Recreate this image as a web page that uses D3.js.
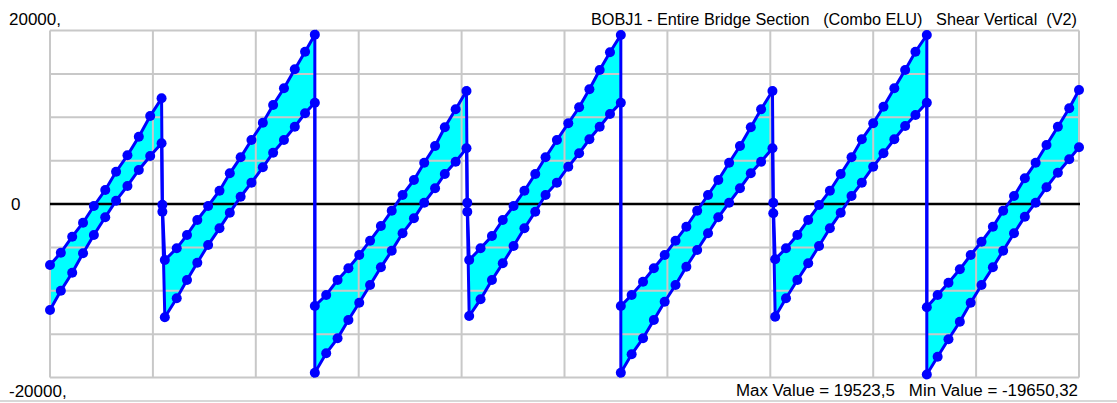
<!DOCTYPE html>
<html>
<head>
<meta charset="utf-8">
<script src="https://cdn.jsdelivr.net/npm/d3@7"></script>
<style>
  body { margin: 0; background: #fff; }
  text { font-family: "Liberation Sans", Arial, sans-serif; fill: #000; }
</style>
</head>
<body>
<div id="shearChart"></div>
<script>
// stations along the bridge (m), one entry per section point
const stations = [
  0, 2.0, 4.1, 6.1, 8.1, 10.2, 12.2, 14.3, 16.4, 18.5, 20.6,
  20.75,
  21.2, 23.4, 25.3, 27.2, 29.2, 31.3, 33.2, 35.2, 37.2, 39.3, 41.2, 43.2, 45.2, 47.1, 48.9,
  48.9, 51.0, 53.1, 55.1, 57.1, 59.1, 61.1, 63.1, 65.1, 67.2, 69.1, 71.1, 72.9, 74.9, 76.9,
  77.05,
  77.4, 79.5, 81.6, 83.6, 85.6, 87.6, 89.6, 91.5, 93.6, 95.7, 97.7, 99.6, 101.5, 103.4, 105.4,
  105.4, 107.4, 109.5, 111.5, 113.5, 115.5, 117.5, 119.5, 121.5, 123.4, 125.4, 127.4, 129.4, 131.3, 133.4,
  133.55,
  133.9, 135.9, 138.0, 140.0, 142.0, 144.0, 146.0, 148.0, 149.9, 152.0, 153.9, 155.9, 157.9, 159.8, 161.9,
  161.9, 163.9, 165.9, 168.0, 170.0, 172.0, 174.1, 176.0, 178.0, 180.0, 182.0, 184.0, 186.1, 188.2, 190.0
];

// envelope max of V2
const shearMax = [
  -7030, -5610, -3770, -2160, -230, 1610, 3720, 5610, 7760, 10140, 12180,
  -100,
  -6460, -5110, -3570, -1840, -230, 1530, 3540, 5380, 7380, 9370, 11410, 13340, 15530, 17560, 19523.5,
  -11760, -10490, -8760, -7410, -5880, -4230, -2540, -770, 1040, 2770, 4760, 6690, 8840, 10920, 13030,
  150,
  -6460, -5110, -3690, -1840, -230, 1530, 3460, 5380, 7380, 9300, 11150, 13220, 15450, 17490, 19480,
  -11760, -10490, -8960, -7410, -5880, -4230, -2620, -770, 1040, 2770, 4760, 6690, 8840, 10920, 13030,
  150,
  -6370, -5110, -3570, -1840, -120, 1530, 3460, 5380, 7460, 9300, 11220, 13340, 15450, 17560, 19480,
  -11910, -10490, -9070, -7530, -5880, -4350, -2620, -770, 920, 2960, 4760, 6800, 8910, 11030, 13140
];

// envelope min of V2
const shearMin = [
  -12220, -9990, -7920, -5680, -3570, -1530, 380, 2080, 3920, 5530, 7000,
  -900,
  -13060, -10870, -8760, -6770, -4730, -2800, -1000, 840, 2460, 4230, 5910, 7380, 8910, 10460, 11680,
  -19450, -17210, -15480, -13370, -11380, -9340, -7300, -5380, -3380, -1650, 150, 1810, 3460, 4880, 6420,
  -890,
  -12910, -10990, -8760, -6840, -4840, -2800, -890, 1040, 2460, 4300, 5840, 7460, 8910, 10370, 11680,
  -19450, -17330, -15480, -13370, -11260, -9340, -7230, -5300, -3380, -1530, 150, 1810, 3540, 4880, 6420,
  -1070,
  -12990, -10870, -8760, -6840, -4840, -2800, -1000, 920, 2460, 4300, 5840, 7460, 8990, 10260, 11680,
  -19650.32, -17600, -15600, -13570, -11380, -9340, -7300, -5380, -3380, -1460, 150, 1930, 3610, 5150, 6540
];

const yLabels = ["20000,", "0", "-20000,"];
const titleText = "BOBJ1 - Entire Bridge Section   (Combo ELU)   Shear Vertical  (V2)";
const footerText = "Max Value = 19523,5   Min Value = -19650,32";

document.addEventListener("DOMContentLoaded", function () {
  const svgWidth = 1117, svgHeight = 403;
  const plot = { left: 50, right: 1079, top: 30.5, bottom: 377.5 };

  const svg = d3.select("#shearChart")
    .append("svg")
    .attr("width", svgWidth)
    .attr("height", svgHeight);

  svg.append("rect").attr("width", svgWidth).attr("height", svgHeight).attr("fill", "#fff");

  const x = d3.scaleLinear().domain([0, 190]).range([plot.left, plot.right]);
  const y = d3.scaleLinear().domain([-20000, 20000]).range([plot.bottom, plot.top]);

  const pts = stations.map((s, i) => ({ s: s, hi: shearMax[i], lo: shearMin[i] }));

  // cyan band between the two envelopes
  const area = d3.area()
    .x(d => x(d.s))
    .y0(d => y(d.lo))
    .y1(d => y(d.hi));

  svg.append("path")
    .datum(pts)
    .attr("fill", "#00ffff")
    .attr("d", area);

  // grid (10 x 8 cells)
  const grid = svg.append("g").attr("stroke", "#c8c8c8").attr("stroke-width", 2);
  grid.selectAll("line.v")
    .data(d3.range(0, 11).map(i => 19 * i))
    .join("line")
      .attr("x1", d => x(d)).attr("x2", d => x(d))
      .attr("y1", plot.top).attr("y2", plot.bottom);
  grid.selectAll("line.h")
    .data(d3.range(-20000, 20001, 5000))
    .join("line")
      .attr("x1", plot.left).attr("x2", plot.right)
      .attr("y1", d => y(d)).attr("y2", d => y(d));

  // zero line
  svg.append("line")
    .attr("x1", plot.left).attr("x2", plot.right + 1)
    .attr("y1", y(0)).attr("y2", y(0))
    .attr("stroke", "#000").attr("stroke-width", 2.5);

  // envelopes
  const blue = "#0000ff";
  ["hi", "lo"].forEach(key => {
    const line = d3.line().x(d => x(d.s)).y(d => y(d[key]));
    svg.append("path")
      .datum(pts)
      .attr("fill", "none")
      .attr("stroke", blue)
      .attr("stroke-width", 3)
      .attr("d", line);

    svg.append("g").selectAll("circle")
      .data(pts)
      .join("circle")
        .attr("cx", d => x(d.s))
        .attr("cy", d => y(d[key]))
        .attr("r", 5)
        .attr("fill", blue);
  });

  // labels
  svg.append("text").attr("x", 9).attr("y", 25).style("font-size", "17px").text(yLabels[0]);
  svg.append("text").attr("x", 11).attr("y", y(0) + 6).style("font-size", "17px").text(yLabels[1]);
  svg.append("text").attr("x", 9).attr("y", 397).style("font-size", "17px").text(yLabels[2]);

  svg.append("text")
    .attr("x", 1077).attr("y", 25)
    .attr("text-anchor", "end")
    .attr("textLength", 486)
    .attr("lengthAdjust", "spacingAndGlyphs")
    .style("white-space", "pre")
    .style("font-size", "16px")
    .text(titleText);

  svg.append("text")
    .attr("x", 1078).attr("y", 396)
    .attr("text-anchor", "end")
    .attr("textLength", 342)
    .attr("lengthAdjust", "spacingAndGlyphs")
    .style("white-space", "pre")
    .style("font-size", "16px")
    .text(footerText);

  // bottom separator
  svg.append("line")
    .attr("x1", 0).attr("x2", svgWidth)
    .attr("y1", 401).attr("y2", 401)
    .attr("stroke", "#d8d8d8").attr("stroke-width", 2);
});
</script>
</body>
</html>
